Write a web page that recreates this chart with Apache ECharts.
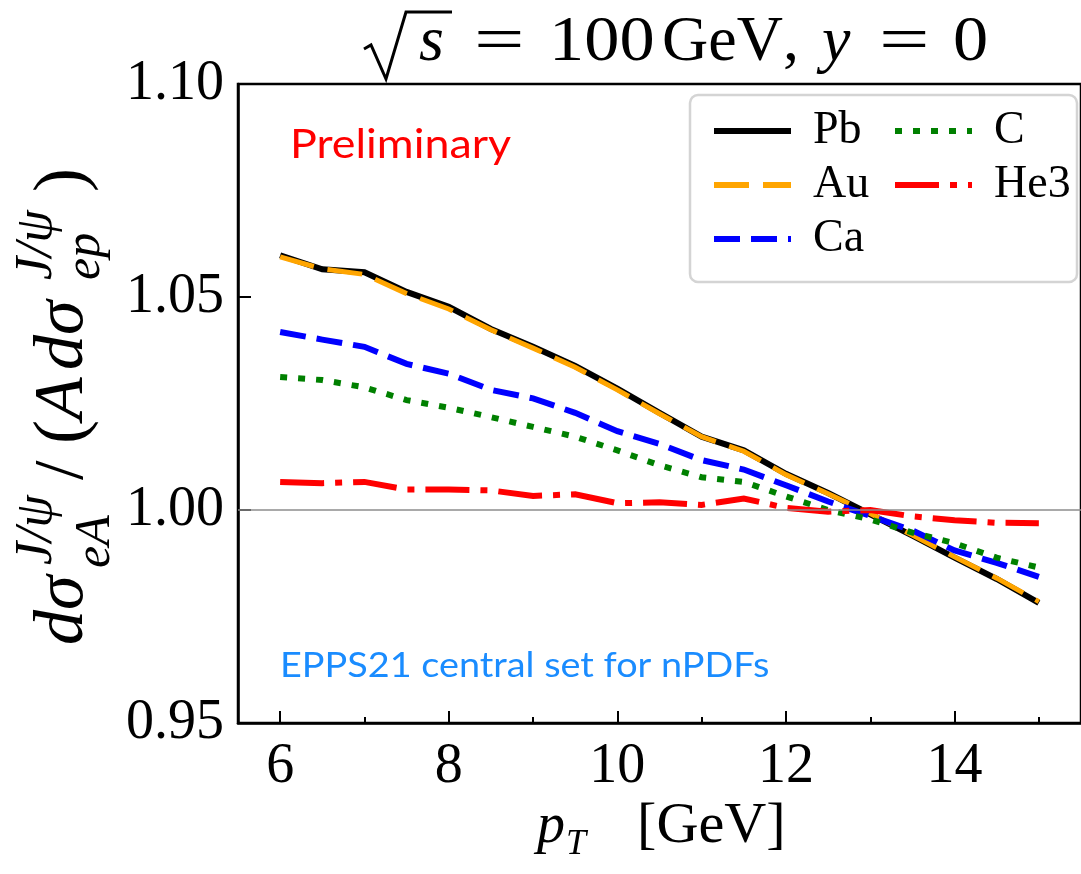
<!DOCTYPE html>
<html>
<head>
<meta charset="utf-8">
<script src="https://cdn.jsdelivr.net/npm/echarts@6/dist/echarts.min.js"></script>
<style>
  html, body { margin: 0; padding: 0; background: #fff; }
  #chart { width: 1081px; height: 874px; }
</style>
</head>
<body>
<div id="chart"></div>
<script>
// pT grid (GeV)
const pT = [6, 6.5, 7, 7.5, 8, 8.5, 9, 9.5, 10, 10.5, 11, 11.5, 12, 12.5, 13, 13.5, 14, 14.5, 15];

// ratio dsigma_eA / (A dsigma_ep)
const pb  = [1.0598, 1.0565, 1.0558, 1.0512, 1.0477, 1.0425, 1.0383, 1.0338, 1.0285, 1.0228, 1.0172, 1.0140, 1.0085, 1.0040, 0.9990, 0.9940, 0.9888, 0.9838, 0.9782];
const au  = [1.0594, 1.0566, 1.0553, 1.0508, 1.0472, 1.0423, 1.0380, 1.0335, 1.0282, 1.0226, 1.0172, 1.0138, 1.0083, 1.0038, 0.9992, 0.9941, 0.9890, 0.9840, 0.9785];
const ca  = [1.0418, 1.0400, 1.0383, 1.0343, 1.0320, 1.0282, 1.0262, 1.0228, 1.0185, 1.0155, 1.0117, 1.0095, 1.0058, 1.0020, 0.9986, 0.9952, 0.9905, 0.9876, 0.9843];
const c12 = [1.0312, 1.0305, 1.0288, 1.0258, 1.0240, 1.0218, 1.0195, 1.0172, 1.0140, 1.0105, 1.0077, 1.0066, 1.0032, 1.0000, 0.9978, 0.9947, 0.9922, 0.9888, 0.9865];
const he3 = [1.0066, 1.0063, 1.0066, 1.0048, 1.0048, 1.0046, 1.0033, 1.0037, 1.0016, 1.0018, 1.0012, 1.0027, 1.0005, 0.9996, 1.0000, 0.9985, 0.9976, 0.9970, 0.9969];

const xMajor = [6, 8, 10, 12, 14];
const xMinor = [7, 9, 11, 13, 15];

const SERIF = '"Liberation Serif", "DejaVu Serif", serif';
const SANS = 'Lato, "Open Sans", "Noto Sans", sans-serif';

function pairs(ys) {
  return pT.map((x, i) => [x, ys[i]]);
}

function lineSeries(name, ys, color, type, width, z) {
  return {
    name: name,
    type: 'line',
    data: pairs(ys),
    symbol: 'none',
    z: z,
    lineStyle: { color: color, width: width, type: type, cap: 'butt', join: 'miter' },
    itemStyle: { color: color },
  };
}

// a text piece placed by its own origin, so it can be stretched a bit
function txt(text, x, y, size, opts) {
  opts = opts || {};
  return {
    type: 'text', x: x, y: y,
    scaleX: opts.sx || 1,
    style: {
      text: text, x: 0, y: 0,
      fill: opts.color || '#000',
      align: 'left', verticalAlign: 'middle',
      fontFamily: opts.family || SERIF, fontSize: size,
      fontStyle: opts.italic ? 'italic' : 'normal',
    },
  };
}

const chart = echarts.init(document.getElementById('chart'), null, { renderer: 'canvas' });

// rotated y label pieces: [text, screen y where it starts, screen x of centre, size, italic]
const yLabelParts = [
  ['dσ', 645, 64, 70, true],
  ['J/ψ', 565, 37, 52, true],
  ['eA', 568, 96, 50, true],
  ['/', 480, 64, 70, false],
  ['(', 444, 64, 72, false],
  ['A', 420, 64, 70, true],
  ['dσ', 370, 64, 70, true],
  ['J/ψ', 280, 37, 52, true],
  ['ep', 280, 86, 50, true],
  [')', 192, 64, 72, false],
];

const TY = 43; // centre line of the title
const titleParts = [
  txt('s', 419, TY, 64, { italic: true }),
  txt('=', 474, TY, 64, { sx: 1.4 }),
  txt('100', 549, TY, 64, { sx: 1.1 }),
  txt('GeV', 662, TY, 64),
  txt(',', 783, TY, 64),
  txt('y', 822, TY, 64, { italic: true }),
  txt('=', 879, TY, 64, { sx: 1.4 }),
  txt('0', 953, TY, 64, { sx: 1.1 }),
];

chart.setOption({
  animation: false,
  backgroundColor: '#fff',
  grid: {
    left: 238, top: 84, width: 850, height: 639,
    show: true, borderColor: '#000', borderWidth: 2.5, backgroundColor: 'transparent',
  },
  xAxis: [
    {
      type: 'value', min: 5.5, max: 15.5,
      axisLine: { show: true, onZero: false, lineStyle: { color: '#000', width: 2.5 } },
      axisTick: { show: true, inside: true, length: 12, customValues: xMajor, lineStyle: { color: '#000', width: 2 } },
      axisLabel: { customValues: xMajor, margin: 16, color: '#000', fontFamily: SERIF, fontSize: 56 },
      splitLine: { show: false },
    },
    {
      type: 'value', min: 5.5, max: 15.5, position: 'bottom',
      axisLine: { show: false },
      axisTick: { show: true, inside: true, length: 6, customValues: xMinor, lineStyle: { color: '#000', width: 2 } },
      axisLabel: { show: false },
      splitLine: { show: false },
    },
  ],
  yAxis: {
    type: 'value', min: 0.95, max: 1.10, interval: 0.05,
    axisLine: { show: true, onZero: false, lineStyle: { color: '#000', width: 2.5 } },
    axisTick: { show: true, inside: true, length: 13, lineStyle: { color: '#000', width: 2 } },
    axisLabel: {
      margin: 14, color: '#000', fontFamily: SERIF, fontSize: 56,
      formatter: (v) => v.toFixed(2),
    },
    splitLine: { show: false },
  },
  legend: [
    {
      data: ['Pb', 'Au', 'Ca'],
      orient: 'vertical', left: 706, top: 103,
      itemWidth: 77, itemHeight: 14, itemGap: 8,
      itemStyle: { opacity: 0 },
      lineStyle: { width: 6 },
      textStyle: { fontFamily: SERIF, fontSize: 46, lineHeight: 46, color: '#000', padding: [0, 0, 0, 17] },
    },
    {
      data: ['C', 'He3'],
      orient: 'vertical', left: 887, top: 103,
      itemWidth: 77, itemHeight: 14, itemGap: 8,
      itemStyle: { opacity: 0 },
      lineStyle: { width: 6 },
      textStyle: { fontFamily: SERIF, fontSize: 46, lineHeight: 46, color: '#000', padding: [0, 0, 0, 17] },
    },
  ],
  graphic: [
    {
      type: 'rect', z: -1,
      shape: { x: 690, y: 95, width: 387, height: 187, r: 8 },
      style: { fill: '#fff', stroke: '#d4d4d4', lineWidth: 2.5 },
    },
    // radical sign of the title
    {
      type: 'polyline',
      shape: { points: [[364, 49], [371, 45], [386, 79], [406, 12], [452, 12]] },
      style: { stroke: '#000', lineWidth: 3, fill: null },
    },
    ...titleParts,
    txt('Preliminary', 290, 145, 40, { family: SANS, color: '#ff0000', sx: 1.12 }),
    txt('EPPS21 central set for nPDFs', 280, 666, 35, { family: SANS, color: '#1a8cff', sx: 1.08 }),
    // x axis title
    txt('p', 537, 827, 56, { italic: true }),
    txt('T', 566, 845, 36, { italic: true }),
    txt('[GeV]', 637, 827, 56, { sx: 1.04 }),
    {
      type: 'group', x: 0, y: 0, rotation: Math.PI / 2,
      children: yLabelParts.map((p) => ({
        type: 'text',
        style: {
          text: p[0], x: -p[1], y: p[2],
          fill: '#000', align: 'left', verticalAlign: 'middle',
          fontFamily: SERIF, fontSize: p[3], fontStyle: p[4] ? 'italic' : 'normal',
        },
      })),
    },
  ],
  series: [
    Object.assign(lineSeries('Pb', pb, '#000000', 'solid', 6, 2), {
      markLine: {
        silent: true, symbol: 'none', label: { show: false },
        lineStyle: { color: '#8c8c8c', width: 1.5, type: 'solid' },
        data: [{ yAxis: 1.0 }],
      },
    }),
    lineSeries('Au', au, '#ffa500', [35, 14], 5, 3),
    lineSeries('Ca', ca, '#0000ff', [26, 11], 6, 3),
    lineSeries('C', c12, '#008000', [7, 11], 6, 3),
    lineSeries('He3', he3, '#ff0000', [44, 11, 7, 11], 6, 4),
  ],
});
</script>
</body>
</html>
